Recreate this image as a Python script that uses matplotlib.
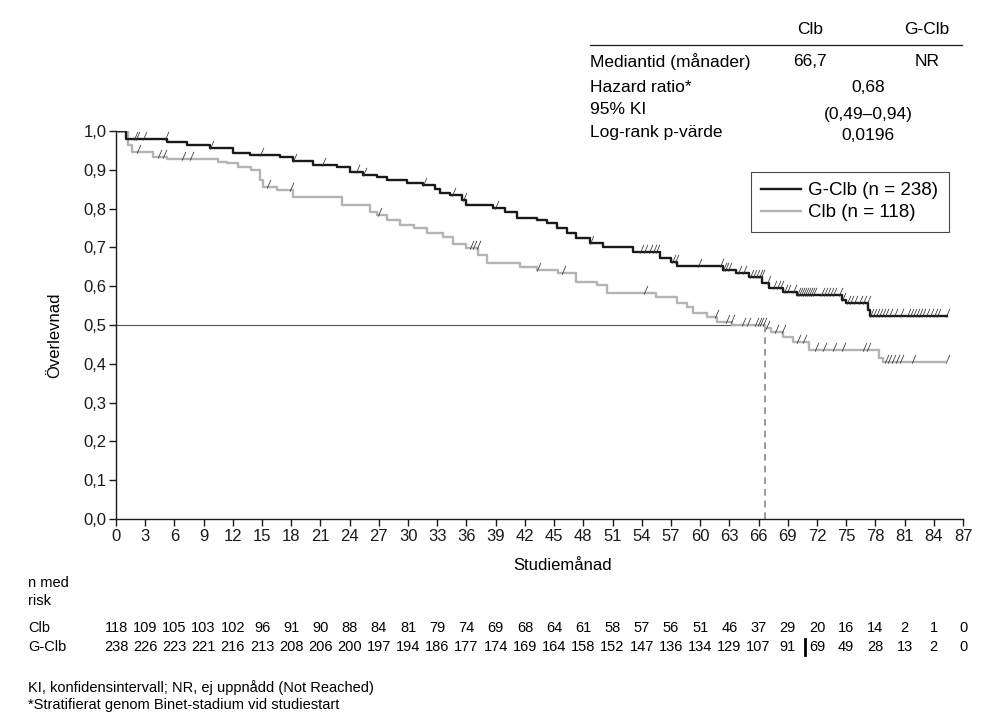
import numpy as np
import matplotlib
matplotlib.use("Agg")
import matplotlib.pyplot as plt
from matplotlib.path import Path
from matplotlib.lines import Line2D

plt.rcParams["font.family"] = ["Liberation Sans", "DejaVu Sans"]

# --- data ---
gclb_t = [0, 1.0, 5.2, 7.3, 9.7, 12.0, 13.8, 16.8, 18.2, 20.2, 22.7, 24.0, 25.4, 26.8,
          27.8, 29.9, 31.5, 32.8, 33.3, 34.3, 35.5, 36.0, 38.7, 40.0, 41.2, 43.2, 44.3,
          45.3, 46.3, 47.3, 48.7, 50.0, 53.1, 55.9, 57.0, 57.6, 62.3, 63.7, 65.0, 66.4,
          67.1, 68.5, 69.9, 74.6, 75.0, 77.2, 77.4]
gclb_s = [1.0, 0.980, 0.972, 0.964, 0.955, 0.943, 0.938, 0.934, 0.923, 0.912, 0.908, 0.895,
          0.887, 0.882, 0.874, 0.867, 0.861, 0.850, 0.840, 0.835, 0.822, 0.810, 0.802, 0.792,
          0.776, 0.771, 0.762, 0.750, 0.737, 0.724, 0.712, 0.701, 0.688, 0.673, 0.662, 0.652,
          0.642, 0.634, 0.624, 0.608, 0.595, 0.585, 0.577, 0.564, 0.556, 0.539, 0.523]
gclb_end = 85.4

clb_t = [0, 1.2, 1.6, 3.8, 5.2, 10.5, 11.4, 12.5, 13.9, 14.8, 15.1, 16.5, 18.2, 23.2, 26.1,
         26.8, 27.8, 29.2, 30.6, 31.9, 33.6, 34.6, 36.0, 37.2, 38.1, 41.5, 43.2, 45.4, 47.3,
         49.4, 50.4, 55.5, 57.6, 58.6, 59.3, 60.7, 61.7, 63.3, 66.7, 67.3, 68.5, 69.5, 71.2,
         78.4, 78.8]
clb_s = [1.0, 0.965, 0.947, 0.934, 0.927, 0.921, 0.917, 0.908, 0.900, 0.874, 0.856, 0.848,
         0.829, 0.809, 0.792, 0.784, 0.771, 0.758, 0.749, 0.736, 0.728, 0.710, 0.698, 0.680,
         0.661, 0.650, 0.642, 0.633, 0.612, 0.603, 0.583, 0.573, 0.556, 0.547, 0.532, 0.521,
         0.509, 0.500, 0.491, 0.483, 0.470, 0.457, 0.436, 0.414, 0.405]
clb_end = 85.1

gclb_cens = [0.2, 0.35, 0.5, 0.65, 0.8, 1.8, 2.1, 2.8, 5.0, 9.7, 14.8, 18.2, 21.2, 24.7, 25.4,
             31.5, 34.5, 35.6, 38.9, 48.7, 53.8, 54.2, 54.7, 55.2, 55.5, 57.1, 57.4, 59.8,
             62.0, 62.3, 62.6, 62.9, 63.9, 64.4, 65.1, 65.4, 65.7, 66.0, 66.3, 66.9, 67.5,
             67.9, 68.2, 68.6, 68.9, 69.5, 69.9, 70.2, 70.4, 70.6, 70.8, 71.0, 71.2, 71.4,
             71.6, 72.4, 72.7, 73.0, 73.3, 73.6, 74.3, 74.6, 75.1, 75.4, 75.8, 76.3, 76.7,
             77.1, 77.4, 77.8, 78.1, 78.4, 78.7, 79.0, 79.4, 79.9, 80.5, 81.2, 81.6, 81.9,
             82.2, 82.5, 82.8, 83.2, 83.6, 84.0, 84.3, 85.3]
clb_cens = [2.2, 4.3, 4.8, 6.8, 7.6, 15.5, 17.9, 26.9, 36.4, 36.7, 37.1, 43.2, 45.8, 54.2,
            61.5, 62.7, 63.2, 64.3, 64.8, 65.6, 65.9, 66.2, 66.5, 66.8, 67.7, 68.4, 69.9,
            70.6, 71.8, 72.6, 73.6, 74.6, 76.7, 77.1, 79.0, 79.3, 79.7, 80.1, 80.5, 81.8,
            85.3]

risk_months = list(range(0, 88, 3))
clb_risk = [118, 109, 105, 103, 102, 96, 91, 90, 88, 84, 81, 79, 74, 69, 68, 64, 61, 58, 57,
            56, 51, 46, 37, 29, 20, 16, 14, 2, 1, 0]
gclb_risk = [238, 226, 223, 221, 216, 213, 208, 206, 200, 197, 194, 186, 177, 174, 169, 164,
             158, 152, 147, 136, 134, 129, 107, 91, 69, 49, 28, 13, 2, 0]

median_clb = 66.7

BLACK = "#1a1a1a"
GREY = "#b4b4b4"
W, H = 996, 728


def fx(px):
    return px / W


def fy(py):
    return 1 - py / H


def surv_at(t, s, x):
    idx = np.searchsorted(np.asarray(t), np.asarray(x), side="right") - 1
    return np.asarray(s)[idx]


fig = plt.figure(figsize=(W / 100, H / 100), dpi=100)
ax = fig.add_axes([fx(116), fy(519), fx(963) - fx(116), fy(131) - fy(519)])

# kurvor
ax.step(gclb_t + [gclb_end], gclb_s + [gclb_s[-1]], where="post", color=BLACK, lw=1.7, zorder=4)
ax.step(clb_t + [clb_end], clb_s + [clb_s[-1]], where="post", color=GREY, lw=1.7, zorder=3)

# censurering
cens_marker = Path([(-0.05, -0.15), (0.45, 1.0)], [Path.MOVETO, Path.LINETO])
for ct, t, s in [(gclb_cens, gclb_t, gclb_s), (clb_cens, clb_t, clb_s)]:
    ax.plot(ct, surv_at(t, s, ct), ls="none", marker=cens_marker, markersize=11,
            markeredgewidth=0.55, markeredgecolor="#333333", zorder=5)

# median
ax.plot([0, median_clb], [0.5, 0.5], color="#555555", lw=0.8, zorder=2)
ax.plot([median_clb, median_clb], [0, 0.5], color="#888888", lw=1.2, ls=(0, (4, 3)), zorder=2)

# axlar
ax.set_xlim(0, 87)
ax.set_ylim(0, 1.0)
ax.spines["top"].set_visible(False)
ax.spines["right"].set_visible(False)
for sp in ["left", "bottom"]:
    ax.spines[sp].set_color(BLACK)
    ax.spines[sp].set_linewidth(1.0)
ax.set_xticks(risk_months)
ax.set_xticklabels([str(m) for m in risk_months])
yt = np.arange(0, 1.01, 0.1)
ax.set_yticks(yt)
ax.set_yticklabels([f"{v:.1f}".replace(".", ",") for v in yt])
ax.tick_params(direction="out", length=5, width=1, labelsize=12, colors=BLACK, pad=2)

fig.text(fx(55), fy(335), "Överlevnad", rotation=90, ha="center", va="center", fontsize=12)
fig.text(fx(563), fy(566), "Studiemånad", ha="center", va="center", fontsize=12)

# legend
handles = [Line2D([], [], color=BLACK, lw=1.7), Line2D([], [], color=GREY, lw=1.7)]
leg = ax.legend(handles, ["G-Clb (n = 238)", "Clb (n = 118)"], loc="upper left",
                bbox_to_anchor=(fx(751), fy(172)), bbox_transform=fig.transFigure,
                fontsize=13.5, frameon=True, fancybox=False, handlelength=2.1,
                handletextpad=0.4, borderpad=0.55, labelspacing=0.25, borderaxespad=0)
leg.get_frame().set_edgecolor(BLACK)
leg.get_frame().set_linewidth(0.8)

# tabell uppe till höger
fs = 12.5
fig.text(fx(810), fy(30), "Clb", ha="center", va="center", fontsize=fs)
fig.text(fx(927), fy(30), "G-Clb", ha="center", va="center", fontsize=fs)
fig.add_artist(Line2D([fx(590), fx(962)], [fy(45), fy(45)], color=BLACK, lw=0.9))
fig.text(fx(590), fy(62), "Mediantid (månader)", ha="left", va="center", fontsize=fs)
fig.text(fx(810), fy(62), "66,7", ha="center", va="center", fontsize=fs)
fig.text(fx(927), fy(62), "NR", ha="center", va="center", fontsize=fs)
fig.text(fx(590), fy(87), "Hazard ratio*", ha="left", va="center", fontsize=fs)
fig.text(fx(868), fy(87), "0,68", ha="center", va="center", fontsize=fs)
fig.text(fx(590), fy(110), "95% KI", ha="left", va="center", fontsize=fs)
fig.text(fx(868), fy(114), "(0,49–0,94)", ha="center", va="center", fontsize=fs)
fig.text(fx(590), fy(132), "Log-rank p-värde", ha="left", va="center", fontsize=fs)
fig.text(fx(868), fy(136), "0,0196", ha="center", va="center", fontsize=fs)

# antal i risk
rs = 10.5
fig.text(fx(28), fy(583), "n med", ha="left", va="center", fontsize=rs)
fig.text(fx(28), fy(601), "risk", ha="left", va="center", fontsize=rs)
fig.text(fx(28), fy(628), "Clb", ha="left", va="center", fontsize=rs)
fig.text(fx(28), fy(647), "G-Clb", ha="left", va="center", fontsize=rs)
trans = matplotlib.transforms.blended_transform_factory(ax.transData, fig.transFigure)
for m, a, b in zip(risk_months, clb_risk, gclb_risk):
    ax.text(m, fy(628), str(a), transform=trans, ha="center", va="center", fontsize=rs,
            clip_on=False)
    ax.text(m, fy(647), str(b), transform=trans, ha="center", va="center", fontsize=rs,
            clip_on=False)
fig.add_artist(Line2D([fx(805), fx(805)], [fy(639), fy(655)], color="black", lw=2))

fig.text(fx(28), fy(688), "KI, konfidensintervall; NR, ej uppnådd (Not Reached)",
         ha="left", va="center", fontsize=rs)
fig.text(fx(28), fy(705), "*Stratifierat genom Binet-stadium vid studiestart",
         ha="left", va="center", fontsize=rs)

fig.savefig("out.png", dpi=100)
